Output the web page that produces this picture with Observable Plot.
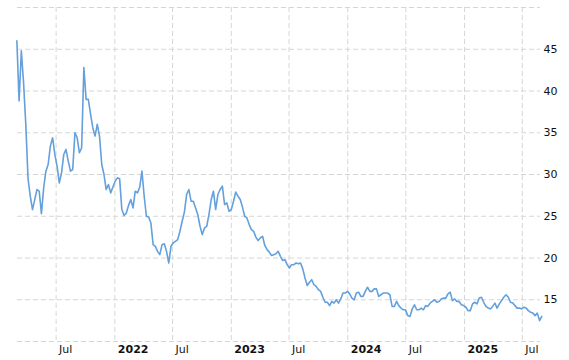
<!DOCTYPE html>
<html>
<head>
<meta charset="utf-8">
<script src="https://cdn.jsdelivr.net/npm/d3@7"></script>
<script src="https://cdn.jsdelivr.net/npm/@observablehq/plot@0.6"></script>
<style>
  html, body { margin: 0; padding: 0; background: #fff; }
  #chart svg { display: block; }
</style>
</head>
<body>
<div id="chart"></div>
<script>
// Weekly closing prices, first week starting at startDate
const startDate = "2021-02-28";
const weeklyClose = [
  46.0, 38.8, 44.8, 41.0, 36.0, 29.5, 27.4, 25.8, 27.0, 28.2,
  28.0, 25.3, 28.4, 30.4, 31.2, 33.4, 34.4, 32.4, 31.0, 29.0,
  30.2, 32.4, 33.0, 31.6, 30.4, 30.6, 35.0, 34.4, 32.6, 33.2,
  42.8, 39.0, 39.0, 37.2, 35.6, 34.6, 36.0, 34.6, 31.2, 30.0,
  28.2, 28.8, 27.8, 28.5, 29.2, 29.6, 29.5, 25.8, 25.1, 25.4,
  26.3, 27.0, 26.0, 28.0, 27.8, 28.5, 30.4, 27.4, 25.0, 24.9,
  24.2, 21.6, 21.4, 20.8, 20.4, 21.6, 21.7, 20.8, 19.4, 21.4,
  21.8, 22.0, 22.2, 23.2, 24.4, 25.5, 27.6, 28.2, 26.8, 26.8,
  26.0, 25.2, 23.8, 22.8, 23.6, 23.8, 25.2, 27.0, 28.0, 25.8,
  27.6, 28.2, 28.6, 26.4, 26.6, 25.6, 25.8, 26.8, 27.9, 27.4,
  27.0, 26.1, 25.0, 24.8, 24.0, 23.4, 23.2, 22.5, 22.1, 22.4,
  22.6, 21.5, 21.0, 20.7, 20.3, 20.4, 20.5, 20.8, 20.2, 19.7,
  19.8, 19.2, 18.8, 19.2, 19.2, 19.4, 19.3, 19.4, 18.7, 17.6,
  16.7, 17.1, 17.4, 16.8, 16.6, 16.2, 16.0, 15.3, 14.7, 14.7,
  14.3, 14.8, 14.6, 15.0, 14.6, 15.1, 15.8, 15.8, 16.0, 15.7,
  15.2, 15.0, 15.8, 15.9, 15.4, 15.4, 16.0, 16.5, 16.0, 16.0,
  16.3, 16.3, 15.4, 15.6, 15.8, 15.8, 15.8, 15.6, 14.2, 14.2,
  14.8, 14.3, 14.0, 13.8, 13.8, 13.1, 13.0, 13.9, 14.4, 13.8,
  13.8, 14.0, 13.8, 14.3, 14.2, 14.6, 14.8, 15.0, 14.7, 14.8,
  15.1, 15.2, 15.2, 15.7, 15.9, 14.9, 15.1, 14.8, 14.8, 14.4,
  14.3, 14.1, 13.7, 13.7, 14.5, 14.7, 14.5, 15.2, 15.3, 14.7,
  14.2, 14.0, 13.9, 14.2, 14.6, 14.0, 14.5, 14.9, 15.3, 15.6,
  15.3, 14.7, 14.6, 14.3, 14.0, 14.0, 13.9, 14.1, 14.0, 13.7,
  13.5, 13.4, 13.1, 13.4, 12.5, 13.0
];

const xDomain = ["2021-03-02", "2025-08-27"];
const yDomain = [10, 50];
const yTickValues = [15, 20, 25, 30, 35, 40, 45];
const yGridValues = [10, 15, 20, 25, 30, 35, 40, 45, 50];
const julTickDates = ["2021-07-01", "2022-07-01", "2023-07-01", "2024-07-01", "2025-07-01"];
const yearTickDates = ["2022-01-01", "2023-01-01", "2024-01-01", "2025-01-01"];

const t0 = new Date(startDate);
const data = weeklyClose.map((v, i) => ({ date: d3.utcDay.offset(t0, 7 * i), value: v }));
const julDates = julTickDates.map(d => new Date(d));
const yearDates = yearTickDates.map(d => new Date(d));
const gridDates = [...julDates, ...yearDates];

const gridStyle = { stroke: "#d6d6d6", strokeOpacity: 1, strokeWidth: 1, strokeDasharray: "5,3" };

const chart = Plot.plot({
  width: 569,
  height: 360,
  marginLeft: 17,
  marginRight: 29,
  marginTop: 7,
  marginBottom: 19,
  style: { fontFamily: "'DejaVu Sans', Verdana, sans-serif", fontSize: "11px", background: "#fff", color: "#111" },
  x: { type: "utc", domain: xDomain.map(d => new Date(d)) },
  y: { domain: yDomain },
  marks: [
    Plot.gridY(yGridValues, gridStyle),
    Plot.gridX(gridDates, gridStyle),
    Plot.line(data, { x: "date", y: "value", stroke: "#64a0dc", strokeWidth: 1.6 }),
    Plot.axisY(yTickValues, { anchor: "right", tickSize: 0, tickPadding: 3, label: null }),
    Plot.axisX(julDates, { anchor: "bottom", tickSize: 0, tickPadding: 4, textAnchor: "start", dx: 3, tickFormat: () => "Jul", label: null }),
    Plot.axisX(yearDates, { anchor: "bottom", tickSize: 0, tickPadding: 4, textAnchor: "start", dx: 3, tickFormat: d3.utcFormat("%Y"), fontWeight: "bold", label: null })
  ]
});
document.getElementById("chart").appendChild(chart);
</script>
</body>
</html>
